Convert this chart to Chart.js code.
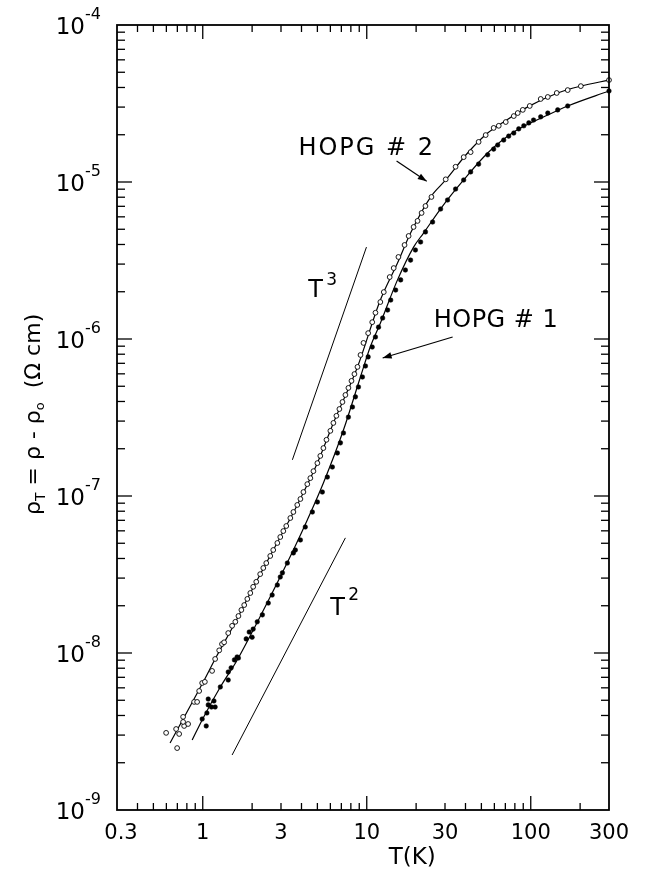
<!DOCTYPE html>
<html><head><meta charset="utf-8">
<script src="https://cdn.jsdelivr.net/npm/chart.js@4.4.1/dist/chart.umd.min.js"></script>
<style>html,body{margin:0;padding:0;background:#fff}#wrap{width:648px;height:871px;position:relative}</style>
</head><body><div id="wrap"><canvas id="c"></canvas></div>
<script>
// HOPG #2 (open circles) measured points: T (K), rho_T (ohm cm)
const hopg2T = [0.598,0.688,0.698,0.718,0.759,0.770,0.814,0.759,0.886,0.924,0.951,0.992,1.03,1.14,1.19,1.26,1.31,1.35,1.43,1.51,1.58,1.65,1.72,1.79,1.87,1.95,2.03,2.12,2.24,2.34,2.44,2.58,2.69,2.85,2.97,3.10,3.23,3.42,3.57,3.77,3.94,4.11,4.34,4.53,4.73,5.00,5.21,5.44,5.68,6.00,6.26,6.53,6.81,7.11,7.41,7.73,8.07,8.41,8.78,9.16,9.55,10.2,10.8,11.3,12.1,12.7,13.8,14.6,15.6,17.0,18.0,19.3,20.4,21.6,22.8,24.8,30.3,34.8,39.0,43.0,48.1,53.1,59.4,63.8,70.4,78.8,83.3,89.4,98.6,115,127,144,168,202,300];
const hopg2Rho = [3.10e-9,3.28e-9,2.48e-9,3.05e-9,3.92e-9,3.43e-9,3.53e-9,3.64e-9,4.88e-9,4.88e-9,5.73e-9,6.44e-9,6.55e-9,7.69e-9,9.16e-9,1.04e-8,1.14e-8,1.17e-8,1.34e-8,1.49e-8,1.58e-8,1.72e-8,1.88e-8,2.02e-8,2.21e-8,2.41e-8,2.64e-8,2.84e-8,3.18e-8,3.48e-8,3.74e-8,4.15e-8,4.53e-8,5.02e-8,5.48e-8,5.98e-8,6.44e-8,7.24e-8,7.91e-8,8.77e-8,9.57e-8,1.06e-7,1.19e-7,1.30e-7,1.44e-7,1.62e-7,1.80e-7,2.02e-7,2.28e-7,2.60e-7,2.92e-7,3.24e-7,3.58e-7,3.97e-7,4.40e-7,4.88e-7,5.41e-7,5.98e-7,6.64e-7,7.91e-7,9.44e-7,1.09e-6,1.28e-6,1.47e-6,1.72e-6,1.99e-6,2.48e-6,2.83e-6,3.33e-6,3.97e-6,4.53e-6,5.17e-6,5.65e-6,6.35e-6,7.03e-6,8.03e-6,1.04e-5,1.25e-5,1.44e-5,1.55e-5,1.80e-5,1.99e-5,2.21e-5,2.28e-5,2.41e-5,2.63e-5,2.75e-5,2.88e-5,3.05e-5,3.38e-5,3.48e-5,3.69e-5,3.85e-5,4.08e-5,4.46e-5];
// HOPG #2 drawn curve
const hopg2FitT = [0.632,1.006,1.19,1.58,1.95,2.97,3.77,5.0,6.26,8.78,12.1,15.4,18.5,24.5,30.3,41.2,54.6,68.4,95.9,146,202,300];
const hopg2FitRho = [2.67e-9,6.53e-9,9.16e-9,1.57e-8,2.41e-8,5.48e-8,8.77e-8,1.62e-7,2.92e-7,6.63e-7,1.77e-6,3.05e-6,4.73e-6,8.02e-6,1.03e-5,1.53e-5,2.05e-5,2.41e-5,3.01e-5,3.69e-5,4.08e-5,4.46e-5];

// HOPG #1 (filled dots) measured points
const hopg1T = [0.992,1.05,1.06,1.08,1.08,1.13,1.17,1.19,1.28,1.43,1.43,1.49,1.56,1.62,1.65,1.84,1.92,2.00,2.03,2.15,2.31,2.51,2.65,2.85,2.97,3.06,3.28,3.57,3.67,3.94,4.22,4.66,5.00,5.36,5.75,6.17,6.62,6.91,7.21,7.73,8.18,8.53,8.90,9.41,9.82,10.2,10.8,11.3,11.8,12.5,13.4,14.0,15.0,16.1,17.2,18.5,19.8,21.3,22.8,25.2,28.2,31.1,34.8,39.0,43.0,48.1,54.6,59.4,62.9,68.4,73.4,78.8,84.5,90.7,97.3,104,115,127,146,168,300];
const hopg1Rho = [3.80e-9,3.43e-9,4.15e-9,5.09e-9,4.67e-9,4.53e-9,4.95e-9,4.53e-9,6.08e-9,6.73e-9,7.57e-9,8.04e-9,9.04e-9,9.44e-9,9.29e-9,1.23e-8,1.36e-8,1.26e-8,1.42e-8,1.58e-8,1.75e-8,2.08e-8,2.34e-8,2.71e-8,3.05e-8,3.24e-8,3.74e-8,4.34e-8,4.53e-8,5.25e-8,6.35e-8,7.91e-8,9.16e-8,1.06e-7,1.32e-7,1.53e-7,1.88e-7,2.18e-7,2.52e-7,3.18e-7,3.69e-7,4.28e-7,4.95e-7,5.73e-7,6.73e-7,7.69e-7,8.89e-7,1.03e-6,1.19e-6,1.36e-6,1.53e-6,1.77e-6,2.05e-6,2.38e-6,2.75e-6,3.18e-6,3.69e-6,4.15e-6,4.81e-6,5.56e-6,6.73e-6,7.68e-6,9.02e-6,1.03e-5,1.16e-5,1.30e-5,1.49e-5,1.62e-5,1.72e-5,1.85e-5,1.96e-5,2.05e-5,2.18e-5,2.28e-5,2.38e-5,2.48e-5,2.60e-5,2.75e-5,2.88e-5,3.05e-5,3.80e-5];
// HOPG #1 drawn curve
const hopg1FitT = [0.862,1.006,1.28,1.62,2.15,2.58,3.57,4.34,5.44,7.21,9.15,10.5,12.1,15.4,19.3,22.2,29.4,39.0,54.6,78.8,127,168,300];
const hopg1FitRho = [2.79e-9,3.86e-9,6.07e-9,9.0e-9,1.57e-8,2.28e-8,4.53e-8,7.03e-8,1.21e-7,2.63e-7,5.73e-7,8.89e-7,1.26e-6,2.38e-6,3.85e-6,4.73e-6,7.15e-6,1.03e-5,1.53e-5,2.08e-5,2.67e-5,3.05e-5,3.80e-5];

// Power-law guide lines
const t3T = [3.52, 9.96];
const t3Rho = [1.70e-7, 3.85e-6];
const t2T = [1.51, 7.41];
const t2Rho = [2.24e-9, 5.41e-8];

// Axis ticks
const xTickValues = [0.3, 1, 3, 10, 30, 100, 300];
const xTickLabels = ['0.3', '1', '3', '10', '30', '100', '300'];
const yDecadeExponents = [-4, -5, -6, -7, -8, -9];
const yTickLabels = ['-4', '-5', '-6', '-7', '-8', '-9'];

const pts = (xs, ys) => xs.map((x, i) => ({x: x, y: ys[i]}));
const FONT = "'DejaVu Sans', 'Liberation Sans', sans-serif";

function arrow(ctx, x1, y1, x2, y2) {
  ctx.beginPath(); ctx.moveTo(x1, y1); ctx.lineTo(x2, y2); ctx.stroke();
  const ang = Math.atan2(y2 - y1, x2 - x1), L = 9, W = 3.2;
  ctx.beginPath();
  ctx.moveTo(x2, y2);
  ctx.lineTo(x2 - L*Math.cos(ang) + W*Math.sin(ang), y2 - L*Math.sin(ang) - W*Math.cos(ang));
  ctx.lineTo(x2 - L*Math.cos(ang) - W*Math.sin(ang), y2 - L*Math.sin(ang) + W*Math.cos(ang));
  ctx.closePath(); ctx.fill();
}

const framePlugin = {
  id: 'frame',
  afterDatasetsDraw(chart) {
    const ctx = chart.ctx, xs = chart.scales.x, ys = chart.scales.y, a = chart.chartArea;
    ctx.save();
    ctx.strokeStyle = '#000'; ctx.fillStyle = '#000';
    ctx.lineWidth = 1.8;
    ctx.strokeRect(a.left, a.top, a.right - a.left, a.bottom - a.top);
    ctx.lineWidth = 1.3;
    const seg = (x1, y1, x2, y2) => { ctx.beginPath(); ctx.moveTo(x1, y1); ctx.lineTo(x2, y2); ctx.stroke(); };
    // x ticks (inward, top and bottom)
    for (let d = -1; d <= 2; d++) for (let m = 1; m <= 9; m++) {
      const v = m * Math.pow(10, d);
      if (v < 0.3 * 1.01 || v > 300 * 0.99) continue;
      const px = xs.getPixelForValue(v);
      const len = m === 1 ? 14 : 7;
      seg(px, a.bottom, px, a.bottom - len);
      seg(px, a.top, px, a.top + len);
    }
    // y ticks (inward, left and right)
    for (let e = -9; e <= -5; e++) for (let m = 1; m <= 9; m++) {
      if (e === -9 && m === 1) continue;
      const v = m * Math.pow(10, e);
      const py = ys.getPixelForValue(v);
      const len = m === 1 ? 15 : 8;
      seg(a.left, py, a.left + len, py);
      seg(a.right, py, a.right - len, py);
    }
    // x tick labels
    ctx.font = '21px ' + FONT; ctx.textAlign = 'center'; ctx.textBaseline = 'alphabetic';
    xTickValues.forEach((v, i) => ctx.fillText(xTickLabels[i], xs.getPixelForValue(v) + (i === 0 ? 4 : 0), a.bottom + 29));
    // y tick labels 10^e
    yDecadeExponents.forEach((e, i) => {
      const py = ys.getPixelForValue(Math.pow(10, e));
      ctx.font = '23px ' + FONT; ctx.textAlign = 'right';
      ctx.fillText('10', a.left - 32, py + 8.5);
      ctx.font = '16px ' + FONT; ctx.textAlign = 'left';
      ctx.fillText(yTickLabels[i], a.left - 32, py - 6);
    });
    // x axis title
    ctx.font = '23px ' + FONT; ctx.textAlign = 'center';
    ctx.fillText('T(K)', a.left + 0.6 * (a.right - a.left), a.bottom + 54);
    // y axis title (rotated)
    ctx.save();
    ctx.translate(a.left - 77, a.top + 490);
    ctx.rotate(-Math.PI / 2);
    ctx.textAlign = 'left';
    let x = 0;
    const parts = [['ρ', 22, 0], ['T', 14, 5], [' = ρ - ρ', 22, 0], ['o', 13, 4], ['  (Ω cm)', 22, 0]];
    parts.forEach(p => { ctx.font = p[1] + 'px ' + FONT; ctx.fillText(p[0], x, p[2]); x += ctx.measureText(p[0]).width; });
    ctx.restore();
    // annotations
    const P = (t, r) => [xs.getPixelForValue(t), ys.getPixelForValue(r)];
    ctx.textAlign = 'left';
    ctx.font = '24px ' + FONT;
    try { ctx.letterSpacing = '2px'; } catch (err) {}
    let p = P(3.83, 1.49e-5); ctx.fillText('HOPG # 2', p[0], p[1]);
    try { ctx.letterSpacing = '0.5px'; } catch (err) {}
    p = P(25.6, 1.19e-6); ctx.fillText('HOPG # 1', p[0], p[1]);
    try { ctx.letterSpacing = '0px'; } catch (err) {}
    p = P(4.40, 1.85e-6); ctx.fillText('T', p[0], p[1]);
    ctx.font = '17px ' + FONT; ctx.fillText('3', p[0] + 18, p[1] - 12);
    ctx.font = '24px ' + FONT;
    p = P(6.00, 1.75e-8); ctx.fillText('T', p[0], p[1]);
    ctx.font = '17px ' + FONT; ctx.fillText('2', p[0] + 18, p[1] - 15);
    ctx.lineWidth = 1.2;
    let q1 = P(15.2, 1.36e-5), q2 = P(23.2, 1.01e-5); arrow(ctx, q1[0], q1[1], q2[0], q2[1]);
    q1 = P(33.4, 1.03e-6); q2 = P(12.5, 7.57e-7); arrow(ctx, q1[0], q1[1], q2[0], q2[1]);
    ctx.restore();
  }
};

new Chart(document.getElementById('c'), {
  type: 'scatter',
  data: {
    datasets: [
      { label: 'HOPG #2', data: pts(hopg2T, hopg2Rho), order: 0, showLine: false, pointStyle: 'circle',
        pointRadius: 2.4, pointBorderWidth: 0.9, pointBackgroundColor: '#fff', pointBorderColor: '#000', clip: false },
      { label: 'HOPG #1', data: pts(hopg1T, hopg1Rho), order: 0, showLine: false, pointStyle: 'circle',
        pointRadius: 2.3, pointBorderWidth: 0.5, pointBackgroundColor: '#000', pointBorderColor: '#000', clip: false },
      { label: 'HOPG #2 curve', data: pts(hopg2FitT, hopg2FitRho), order: 1, showLine: true, pointRadius: 0,
        borderColor: '#000', borderWidth: 1.2, cubicInterpolationMode: 'monotone', fill: false },
      { label: 'HOPG #1 curve', data: pts(hopg1FitT, hopg1FitRho), order: 1, showLine: true, pointRadius: 0,
        borderColor: '#000', borderWidth: 1.2, cubicInterpolationMode: 'monotone', fill: false },
      { label: 'T^3', data: pts(t3T, t3Rho), order: 1, showLine: true, pointRadius: 0, borderColor: '#000', borderWidth: 1 },
      { label: 'T^2', data: pts(t2T, t2Rho), order: 1, showLine: true, pointRadius: 0, borderColor: '#000', borderWidth: 1 }
    ]
  },
  options: {
    responsive: true, maintainAspectRatio: false, animation: false,
    layout: { padding: { left: 117, right: 39, top: 25, bottom: 61 } },
    plugins: { legend: { display: false }, tooltip: { enabled: false } },
    scales: {
      x: { type: 'logarithmic', min: 0.3, max: 300, display: false },
      y: { type: 'logarithmic', min: 1e-9, max: 1e-4, display: false }
    }
  },
  plugins: [framePlugin]
});
</script>
</body></html>
